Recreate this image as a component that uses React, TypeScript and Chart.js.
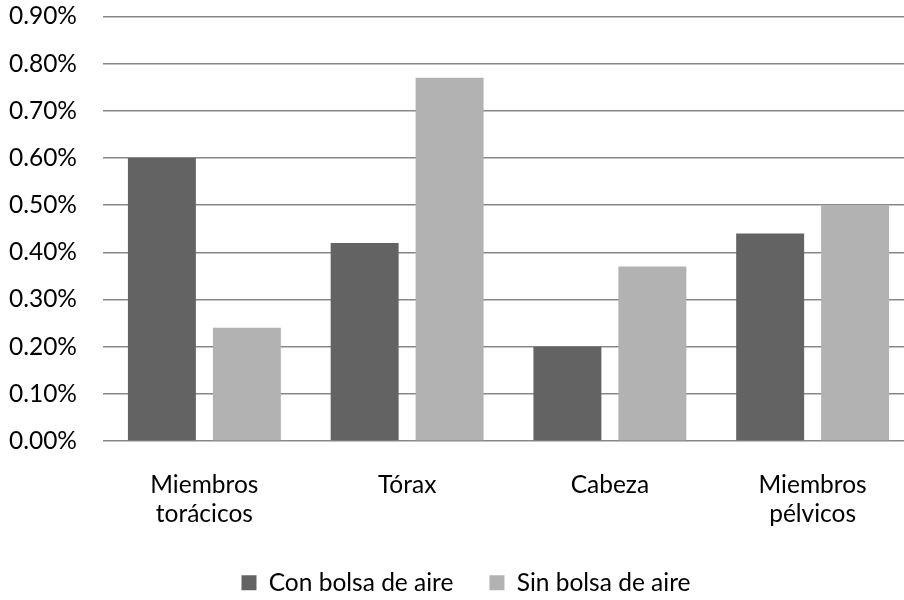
import React, { useEffect, useRef } from 'react';
import { Chart, registerables } from 'chart.js';

Chart.register(...registerables);

const categories: (string | string[])[] = [
  ['Miembros', 'torácicos'],
  'Tórax',
  'Cabeza',
  ['Miembros', 'pélvicos'],
];
const seriesNames = ['Con bolsa de aire', 'Sin bolsa de aire'];
const conBolsa = [0.6, 0.42, 0.2, 0.44];
const sinBolsa = [0.24, 0.77, 0.37, 0.5];
const yMin = 0;
const yMax = 0.9;
const yStep = 0.1;

const FONT = 'Lato, "Open Sans", sans-serif';
const FS = 24.5;
const LEG_PAD = 36;
const CANVAS_H = 605;
const AREA_BOTTOM = 441;
const LEG_H = FS + LEG_PAD + 10;
const X_H = CANVAS_H - LEG_H - AREA_BOTTOM;
const LEGEND_SHIFT_LEFT = 18;

const legendShift = {
  id: 'legendShift',
  afterLayout(chart: any) {
    if (chart.legend) {
      chart.legend.left += LEGEND_SHIFT_LEFT;
    }
  },
};

export default function App() {
  const ref = useRef<HTMLCanvasElement | null>(null);

  useEffect(() => {
    if (!ref.current) return;
    const chart = new Chart(ref.current, {
      type: 'bar',
      data: {
        labels: categories,
        datasets: [
          {
            label: seriesNames[0],
            data: conBolsa,
            backgroundColor: '#636363',
            borderWidth: 0,
            categoryPercentage: 0.838,
            barPercentage: 0.8,
          },
          {
            label: seriesNames[1],
            data: sinBolsa,
            backgroundColor: '#b2b2b2',
            borderWidth: 0,
            categoryPercentage: 0.838,
            barPercentage: 0.8,
          },
        ],
      },
      options: {
        animation: false,
        responsive: true,
        maintainAspectRatio: false,
        layout: { padding: { left: 0, right: 10, top: 16.5, bottom: 0 } },
        plugins: {
          tooltip: { enabled: false },
          legend: {
            position: 'bottom',
            labels: {
              boxWidth: 15,
              boxHeight: 15,
              padding: LEG_PAD,
              color: '#000',
              font: { family: FONT, size: FS },
            },
          },
        },
        scales: {
          x: {
            grid: { display: false, drawTicks: false },
            border: { display: false },
            afterFit: (scale: any) => {
              scale.height = X_H;
              scale.paddingLeft = 0;
              scale.paddingRight = 0;
            },
            ticks: {
              color: '#000',
              padding: 30,
              maxRotation: 0,
              font: { family: FONT, size: FS, lineHeight: 1.18 },
            },
          },
          y: {
            min: yMin,
            max: yMax,
            grid: { color: '#878787', lineWidth: 1.5, drawTicks: false },
            border: { display: false },
            afterFit: (scale: any) => {
              scale.width = 103;
              scale.paddingTop = 0;
              scale.paddingBottom = 0;
            },
            ticks: {
              stepSize: yStep,
              color: '#000',
              padding: 26,
              font: { family: FONT, size: FS },
              callback: (v: any) => Number(v).toFixed(2) + '%',
            },
          },
        },
      },
      plugins: [legendShift],
    });
    return () => chart.destroy();
  }, []);

  return (
    <div
      style={{
        position: 'fixed',
        left: 0,
        top: 0,
        width: 904,
        height: 600,
        overflow: 'hidden',
        background: '#fff',
      }}
    >
      <div style={{ position: 'relative', width: 924, height: CANVAS_H }}>
        <canvas ref={ref} />
      </div>
    </div>
  );
}
